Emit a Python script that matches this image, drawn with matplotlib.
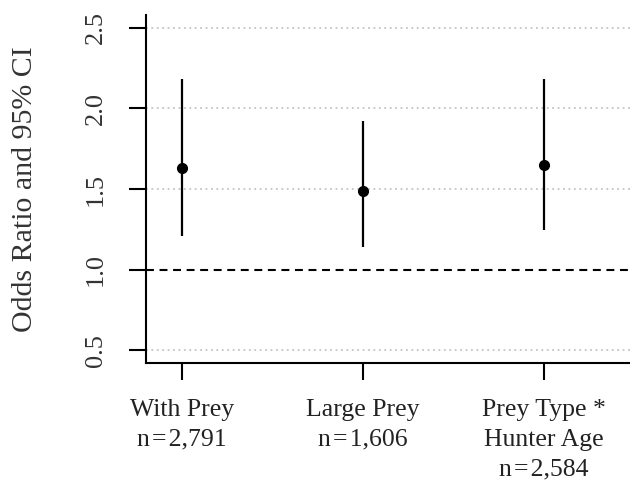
import numpy as np
import matplotlib
matplotlib.use("Agg")
import matplotlib.pyplot as plt

# --- data ---
labels = ["With Prey\nn\u200a=\u200a2,791", "Large Prey\nn\u200a=\u200a1,606",
          "Prey Type *\nHunter Age\nn\u200a=\u200a2,584"]
odds = [1.63, 1.49, 1.65]
ci_low = [1.21, 1.14, 1.245]
ci_high = [2.18, 1.92, 2.18]
yticks = [0.5, 1.0, 1.5, 2.0, 2.5]
grid_levels = [0.5, 1.5, 2.0, 2.5]

plt.rcParams['font.family'] = ['Liberation Serif', 'DejaVu Serif']

fig = plt.figure(figsize=(6.3, 4.83), dpi=100)
ax = fig.add_axes([146/630, 1 - 363/483, 1 - 146/630, (363 - 15)/483])

x = np.arange(1, len(odds) + 1)

for g in grid_levels:
    ax.axhline(g, color='#c4c4c4', lw=1.3, ls=(0, (1, 2)), zorder=1)
ax.axhline(1.0, color='black', lw=1.5, ls=(0, (3.8, 2.7)), zorder=1)

ax.vlines(x, ci_low, ci_high, color='black', lw=1.6, zorder=2)
ax.plot(x, odds, 'o', color='black', ms=7, zorder=3)

ax.set_xlim(0.8, 3.475)
ax.set_ylim(0.42, 2.58)
ax.set_xticks(x)
ax.set_xticklabels(labels, fontsize=18.5, linespacing=1.45)
ax.set_yticks(yticks)
ax.set_yticklabels([f"{v:.1f}" for v in yticks], rotation=90, va='center', fontsize=19)
ax.set_ylabel("Odds Ratio and 95% CI", fontsize=21.5, color='#333333', labelpad=34)

for s in ['top', 'right']:
    ax.spines[s].set_visible(False)
for s in ['left', 'bottom']:
    ax.spines[s].set_linewidth(1.5)
ax.tick_params(axis='both', length=12, width=1.5, colors='black')
ax.tick_params(axis='y', pad=16, labelcolor='#333333')
ax.tick_params(axis='x', pad=14, labelcolor='#222222')

fig.savefig("out.png", dpi=100)
